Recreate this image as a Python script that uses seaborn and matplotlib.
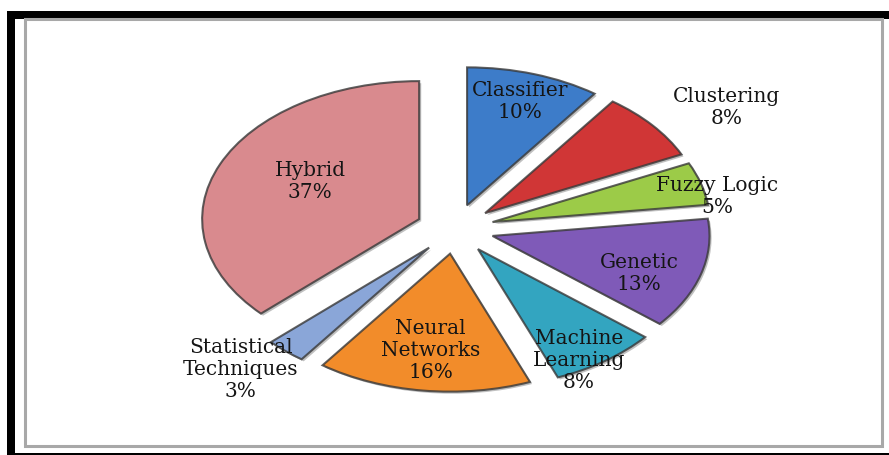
import numpy as np
import matplotlib
matplotlib.use("Agg")
import matplotlib.pyplot as plt
import matplotlib.patheffects as pe
from matplotlib.patches import Rectangle
import seaborn as sns

# Share of each technique (percent)
categories = ["Classifier", "Clustering", "Fuzzy Logic", "Genetic",
              "Machine\nLearning", "Neural\nNetworks", "Statistical\nTechniques", "Hybrid"]
shares = [10, 8, 5, 13, 8, 16, 3, 37]
colors = ["#3D7CC9", "#D03636", "#9CCB48", "#7F5AB8",
          "#33A5C0", "#F28C2A", "#8AA6D8", "#D98A8E"]

# label distance from the exploded wedge tip (in radii), and small angular nudge (deg)
label_dist = [0.79, 1.35, 1.05, 0.73, 0.93, 0.71, 1.24, 0.57]
label_nudge = [0, -5, -6, -6, -6, 0, -3, -5]

sns.set_theme(style="white")
plt.rcParams["font.family"] = ["DejaVu Serif"]

fig = plt.figure(figsize=(8.89, 4.55), dpi=100)
ax = fig.add_axes([0, 0, 1, 1])

explode = [0.18] * len(shares)
wedges, _ = ax.pie(shares, explode=explode, colors=colors, startangle=90,
                   counterclock=False, radius=1.0,
                   wedgeprops=dict(edgecolor=(0.22, 0.22, 0.22, 0.8), linewidth=1.5))
for w in wedges:
    w.set_path_effects([pe.SimplePatchShadow(offset=(1.5, -1.5), shadow_rgbFace=(0.3, 0.3, 0.3), alpha=0.35),
                        pe.Normal()])

# stretched (elliptical) layout
ax.set_aspect("auto")
W, H = 889, 455
cx, cy = 455, 229
rx, ry = 217, 138
ax.set_xlim(-cx / rx, (W - cx) / rx)
ax.set_ylim(-(H - cy) / ry, cy / ry)
ax.axis("off")

for w, name, val, d, nud in zip(wedges, categories, shares, label_dist, label_nudge):
    ang = np.deg2rad((w.theta1 + w.theta2) / 2 + nud)
    x0, y0 = w.center
    x = x0 + d * np.cos(ang)
    y = y0 + d * np.sin(ang)
    ax.text(x, y, f"{name}\n{val}%", ha="center", va="center", fontsize=14.5,
            color="#151515", linespacing=1.2)

# frame: thick black outer border, thin gray inner border
fig.patches.append(Rectangle((7 / W, 1 - 19 / H), (W - 7) / W, 8 / H, transform=fig.transFigure,
                             facecolor="black", edgecolor="none", zorder=5))
fig.patches.append(Rectangle((7 / W, 0), 8 / W, 1 - 11 / H, transform=fig.transFigure,
                             facecolor="black", edgecolor="none", zorder=5))
fig.patches.append(Rectangle((7 / W, 0), (W - 7) / W, 2 / H, transform=fig.transFigure,
                             facecolor="black", edgecolor="none", zorder=5))
fig.patches.append(Rectangle((25 / W, 9 / H), (882 - 25) / W, (446 - 19) / H,
                             transform=fig.transFigure, fill=False,
                             edgecolor="#A8A8A8", linewidth=2.2, zorder=5))

fig.savefig("out.png", dpi=100)
